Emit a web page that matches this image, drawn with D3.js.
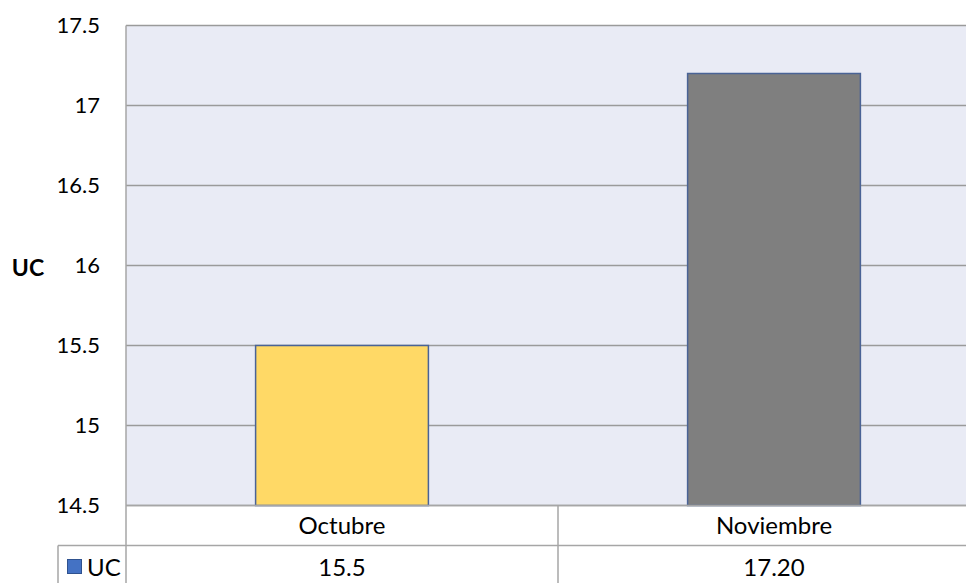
<!DOCTYPE html>
<html>
<head>
<meta charset="utf-8">
<script src="https://cdn.jsdelivr.net/npm/d3@7"></script>
<style>
    body { margin: 0; background: #fff; }
    svg text { font-family: Lato, "Open Sans", sans-serif; fill: #000; }
</style>
</head>
<body>
<div id="chart"></div>
<script>
// chart data
const months = ["Octubre", "Noviembre"];
const ucValues = [15.5, 17.2];
const ucLabels = ["15.5", "17.20"];
const barColors = ["#FFD966", "#7F7F7F"];
const yTicks = [14.5, 15, 15.5, 16, 16.5, 17, 17.5];
const seriesName = "UC";

function init() {
    const w = 966;
    const h = 583;
    const left = 126, top = 25.5, bottom = 505.5;
    const plotRight = 990;   // runs past the window edge, as in the picture
    const rowH = 40;

    const svg = d3.select("#chart")
        .append("svg")
        .attr("width", w)
        .attr("height", h);

    const x = d3.scaleBand()
        .domain(months)
        .range([left, plotRight])
        .paddingInner(0)
        .paddingOuter(0);

    const y = d3.scaleLinear()
        .domain([14.5, 17.5])
        .range([bottom, top]);

    // plot background
    svg.append("rect")
        .attr("x", left)
        .attr("y", top)
        .attr("width", plotRight - left)
        .attr("height", bottom - top)
        .attr("fill", "#E9EBF5");

    // gridlines
    svg.append("g")
        .selectAll("line")
        .data(yTicks)
        .enter()
        .append("line")
        .attr("x1", left)
        .attr("x2", plotRight)
        .attr("y1", d => y(d))
        .attr("y2", d => y(d))
        .attr("stroke", "#9A9A9A")
        .attr("stroke-width", 1.5);

    // y tick labels
    svg.append("g")
        .selectAll("text")
        .data(yTicks)
        .enter()
        .append("text")
        .attr("x", 100)
        .attr("y", d => y(d))
        .attr("dy", "0.36em")
        .attr("text-anchor", "end")
        .style("font-size", "22px")
        .text(d => d);

    // axis title
    svg.append("text")
        .attr("x", 28)
        .attr("y", y(16) + 10)
        .attr("text-anchor", "middle")
        .style("font-size", "23px")
        .style("font-weight", "bold")
        .text(seriesName);

    // bars
    const barW = x.bandwidth() * 0.4;
    svg.append("g")
        .selectAll("rect")
        .data(ucValues)
        .enter()
        .append("rect")
        .attr("x", (d, i) => x(months[i]) + (x.bandwidth() - barW) / 2)
        .attr("y", d => y(d))
        .attr("width", barW)
        .attr("height", d => y.range()[0] - y(d))
        .attr("fill", (d, i) => barColors[i])
        .attr("stroke", "#4A6396")
        .attr("stroke-width", 1.5);

    // data table
    const tbl = svg.append("g")
        .attr("stroke", "#A6A6A6")
        .attr("stroke-width", 1.5);
    tbl.append("line")
        .attr("x1", left).attr("x2", plotRight)
        .attr("y1", bottom).attr("y2", bottom);
    tbl.append("line")
        .attr("x1", 58).attr("x2", plotRight)
        .attr("y1", bottom + rowH).attr("y2", bottom + rowH);
    tbl.append("line")
        .attr("x1", 58).attr("x2", 58)
        .attr("y1", bottom + rowH).attr("y2", h + 5);
    tbl.selectAll(".vl")
        .data(months)
        .enter()
        .append("line")
        .attr("class", "vl")
        .attr("x1", d => x(d)).attr("x2", d => x(d))
        .attr("y1", (d, i) => i === 0 ? top : bottom)
        .attr("y2", h + 5);

    svg.append("g")
        .selectAll("text")
        .data(months)
        .enter()
        .append("text")
        .attr("x", d => x(d) + x.bandwidth() / 2)
        .attr("y", bottom + 28)
        .attr("text-anchor", "middle")
        .style("font-size", "24px")
        .text(d => d);

    svg.append("g")
        .selectAll("text")
        .data(ucLabels)
        .enter()
        .append("text")
        .attr("x", (d, i) => x(months[i]) + x.bandwidth() / 2)
        .attr("y", bottom + rowH + 30)
        .attr("text-anchor", "middle")
        .style("font-size", "24px")
        .text(d => d);

    // legend key in the table
    svg.append("rect")
        .attr("x", 67.5)
        .attr("y", 559.5)
        .attr("width", 14)
        .attr("height", 14)
        .attr("fill", "#4472C4")
        .attr("stroke", "#2F528F")
        .attr("stroke-width", 1);
    svg.append("text")
        .attr("x", 87)
        .attr("y", bottom + rowH + 30)
        .style("font-size", "24px")
        .text(seriesName);
}

window.onload = init;
</script>
</body>
</html>
